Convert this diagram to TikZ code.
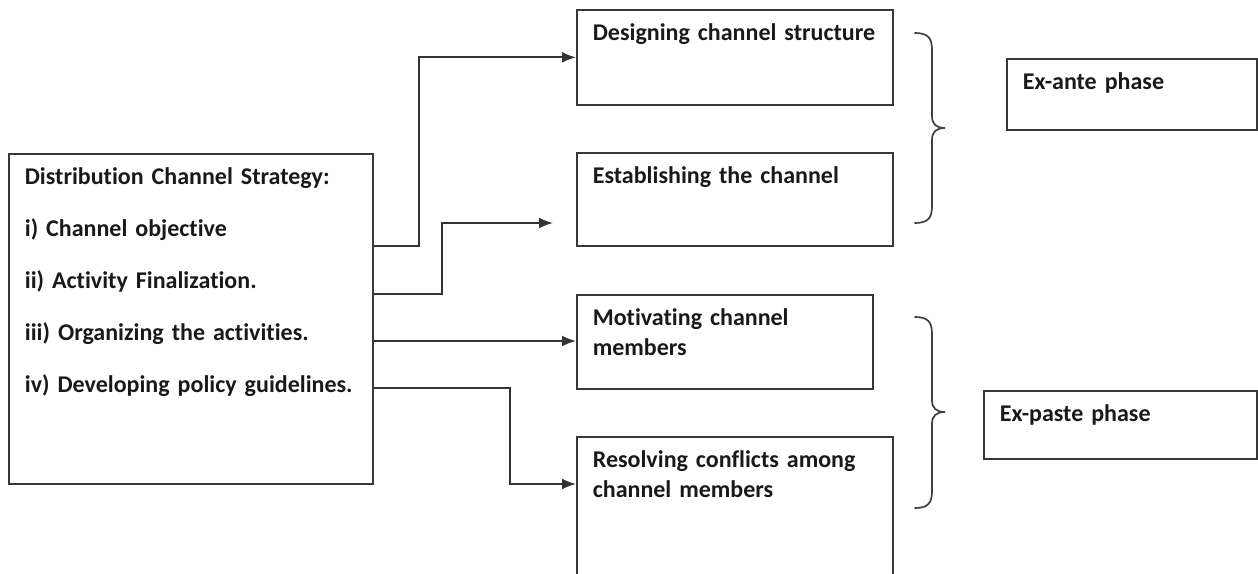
\documentclass[tikz,border=0pt]{standalone}
\usepackage{fontspec}
\setmainfont{Carlito}[Ligatures=NoCommon]
\usetikzlibrary{arrows.meta}

\begin{document}
\begin{tikzpicture}
  [
    x=.5pt, y=-.5pt,
    box/.style={draw=black!78, line width=.85pt, anchor=north west, align=left,
      inner xsep=8pt, inner ysep=3pt, text height=12.5pt,
      font=\fontsize{12}{15}\selectfont\bfseries, text=black!90},
    link/.style={draw=black!80, line width=.9pt, -{Latex[length=7pt,width=5.5pt]}},
    brace/.style={draw=black!75, line width=.85pt, line cap=round},
  ]

\clip (0,0) rectangle (1258,573);

% strategy box on the left
\node[box, text width=166pt, text depth=146.5pt] (strat) at (8,153)
  {Distribution Channel Strategy:\\[11pt]
   i) Channel objective\\[11pt]
   ii) Activity Finalization.\\[11pt]
   iii) Organizing the activities.\\[11pt]
   iv) Developing policy guidelines.};

% the four tasks
\node[box, text width=142pt, text depth=29pt] (design) at (576,9) {Designing channel structure};
\node[box, text width=142pt, text depth=28pt] (estab) at (576,152) {Establishing the channel};
\node[box, text width=132pt, text depth=28.5pt] (motiv) at (576,294) {Motivating channel\\members};
\node[box, text width=142pt, text depth=63.5pt] (resolve) at (576,436) {Resolving conflicts among\\channel members};

% phases
\node[box, text width=109pt, text depth=17pt] (exante) at (1006,58) {Ex-ante phase};
\node[box, text width=120.5pt, text depth=15.5pt] (expaste) at (983,390) {Ex-paste phase};

\newcommand\phaseBrace[3]{
  \draw[brace] (915,#1) .. controls (928,#1) and (932,#1+5) .. (932,#1+17)
    -- (932,#2-12) .. controls (932,#2-4) and (936,#2) .. (945,#2)
    .. controls (936,#2) and (932,#2+4) .. (932,#2+12)
    -- (932,#3-17) .. controls (932,#3-5) and (928,#3) .. (915,#3);
}
\phaseBrace{33}{128}{223}
\phaseBrace{317}{412}{508}

% connectors
\coordinate (estin) at ([xshift=-11.5pt,yshift=-35.5pt]estab.north west);
\coordinate (s3) at ([yshift=-94pt]strat.north east);
\draw[link] ([yshift=-46.5pt]strat.north east) -- ++(45,0) |- (design.west);
\draw[link] ([yshift=-70.5pt]strat.north east) -- ++(68,0) |- (estin);
\draw[link] (s3) -- (motiv.west |- s3);
\draw[link] ([yshift=-117.5pt]strat.north east) -- ++(136,0) |- ([yshift=-24pt]resolve.north west);

\end{tikzpicture}
\end{document}
